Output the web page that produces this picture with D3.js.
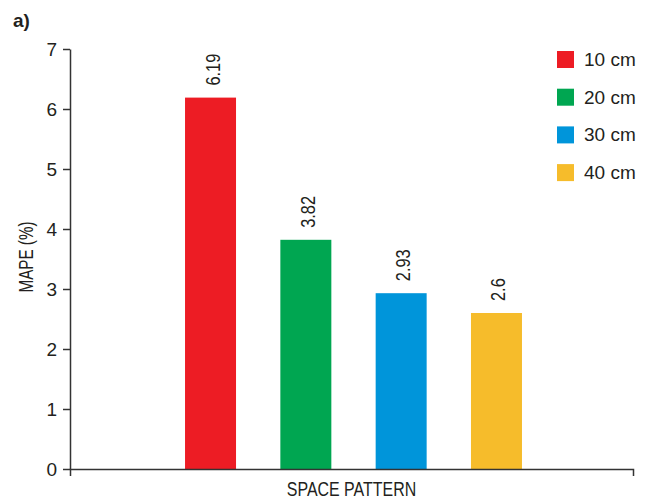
<!doctype html>
<html>
<head>
<meta charset="utf-8">
<script src="https://d3js.org/d3.v7.min.js"></script>
<style>
  body { margin: 0; background: #fff; }
  text { font-family: "Liberation Sans", Arial, sans-serif; fill: #231f20; }
</style>
</head>
<body>
<script>
// chart data
var group = ["SPACE PATTERN"];
var spacings = ["10 cm", "20 cm", "30 cm", "40 cm"];
var mape = [6.19, 3.82, 2.93, 2.6];
var labels = ["6.19", "3.82", "2.93", "2.6"];
var colors = ["#ed1c24", "#00a651", "#0095da", "#f6bc2b"];
var yTicks = [0, 1, 2, 3, 4, 5, 6, 7];

var W = 645, H = 501;
var margin = {top: 49, right: 12, bottom: 32, left: 70};
var width = W - margin.left - margin.right;
var height = H - margin.top - margin.bottom;
var narrow = 0.76; // condensed look for titles and value labels

var svg = d3.select("body").append("svg")
    .attr("width", W)
    .attr("height", H);

var g = svg.append("g")
    .attr("transform", "translate(" + margin.left + "," + margin.top + ")");

var x0 = d3.scaleBand().domain(group).range([0, width]).padding(0.2512);
var x1 = d3.scaleBand().domain(spacings).range([0, x0.bandwidth()]).paddingInner(0.465).paddingOuter(0);
var y = d3.scaleLinear().domain([0, 7]).range([height, 0]);

// bars
var bars = g.append("g")
    .attr("transform", "translate(" + (x0(group[0]) + 2) + ",0)");

bars.selectAll("rect")
    .data(mape)
    .enter().append("rect")
    .attr("x", (d, i) => x1(spacings[i]))
    .attr("y", d => y(d))
    .attr("width", x1.bandwidth())
    .attr("height", d => height - y(d))
    .attr("fill", (d, i) => colors[i]);

// value labels, rotated
bars.selectAll("text")
    .data(mape)
    .enter().append("text")
    .attr("transform", (d, i) => "translate(" + (x1(spacings[i]) + x1.bandwidth() / 2 + 9) + "," + (y(d) - 12) + ") rotate(-90) scale(0.78,1)")
    .style("font-size", "21px")
    .text((d, i) => labels[i]);

// y axis
var yAxis = g.append("g")
    .call(d3.axisLeft(y).tickValues(yTicks).tickFormat(d3.format("d")).tickSize(7).tickSizeOuter(0).tickPadding(6));
yAxis.selectAll("text").style("font-size", "19px").style("font-family", null).attr("fill", null);
yAxis.selectAll("line, path").attr("stroke", "#333").attr("stroke-width", 1.5);

// x axis
var xAxis = g.append("g")
    .attr("transform", "translate(0," + height + ")")
    .call(d3.axisBottom(x0).tickSizeInner(0).tickSizeOuter(7).tickPadding(12));
xAxis.selectAll("text")
    .style("font-size", "21px").style("font-family", null).attr("fill", null)
    .attr("transform", "scale(" + narrow + ",1)");
xAxis.selectAll("path").attr("stroke", "#333").attr("stroke-width", 1.5);

// y axis title
svg.append("text")
    .attr("transform", "translate(33,257) rotate(-90) scale(" + narrow + ",1)")
    .attr("text-anchor", "middle")
    .style("font-size", "20px")
    .text("MAPE (%)");

// panel letter
svg.append("text")
    .attr("x", 13)
    .attr("y", 27)
    .style("font-size", "19px")
    .style("font-weight", "bold")
    .text("a)");

// legend
var legend = svg.append("g")
    .attr("transform", "translate(557,51)");

var item = legend.selectAll("g")
    .data(spacings)
    .enter().append("g")
    .attr("transform", (d, i) => "translate(0," + (i * 37.7) + ")");

item.append("rect")
    .attr("width", 17)
    .attr("height", 17)
    .attr("fill", (d, i) => colors[i]);

item.append("text")
    .attr("x", 27)
    .attr("y", 15)
    .style("font-size", "19px")
    .text(d => d);
</script>
</body>
</html>
